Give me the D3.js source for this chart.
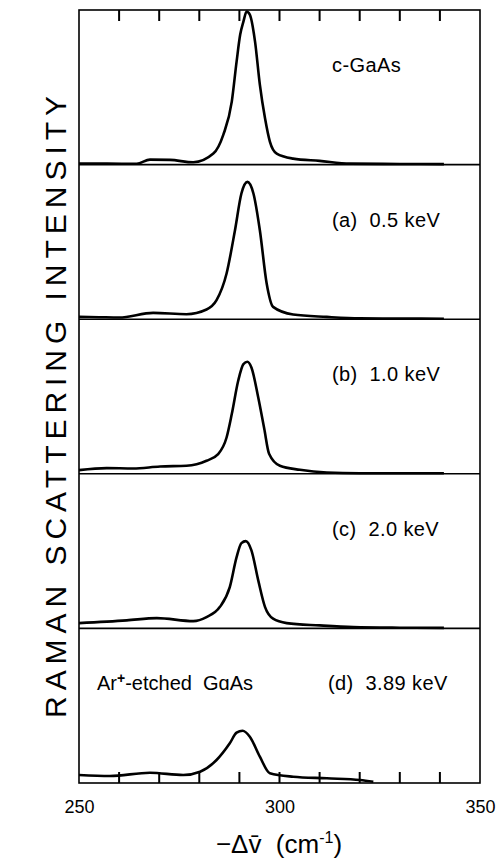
<!DOCTYPE html>
<html>
<head>
<meta charset="utf-8">
<script src="https://cdn.jsdelivr.net/npm/d3@7"></script>
<style>
  body { margin: 0; background: #fff; }
  svg { display: block; font-family: "Liberation Sans", Arial, sans-serif; }
  .frame { fill: none; stroke: #000; stroke-width: 1.6; }
  .sep { stroke: #000; stroke-width: 1.6; }
  .spectrum { fill: none; stroke: #000; stroke-width: 2.6; stroke-linejoin: round; }
  .inTick { fill: #000; stroke: none; }
  .labels path { display: none; }
  .labels text { font-size: 18px; fill: #000; }
  .panelLabel { font-size: 20px; letter-spacing: 0.4px; white-space: pre; }
</style>
</head>
<body>
<script>
//Raman spectra of GaAs, one panel per sample (top to bottom)
//wavenumber shift (cm-1) and intensity (arb. units, panel height = 153)
var shiftC = [250, 257, 264.4, 267.7, 272.7, 278.5, 283.5, 286, 288.1, 289.3, 290.2, 291, 291.8, 292.6, 293.9, 295.1, 296.4, 297.6, 299.3, 303.4, 310, 317.6, 330, 341];
var intC   = [1, 1, 0.8, 5, 4.7, 2.3, 11, 30, 63, 103, 130, 143, 153, 150, 123, 80, 46, 23, 11, 6, 3.7, 1, 0.6, 0.5];

var shiftA = [250, 255, 260, 268.5, 276.8, 281.8, 284.3, 286.8, 288.9, 290.5, 292, 293.5, 295.1, 296.8, 298.4, 303.4, 311.8, 320, 330, 341];
var intA   = [2.3, 2, 1.7, 6.3, 5, 9.7, 19, 45.7, 89, 125.7, 137.3, 125.7, 89, 35.7, 12.3, 4.7, 2.3, 0.8, 0.6, 0.5];

var shiftB = [250, 256.9, 263.5, 270.2, 276.8, 281.8, 284.7, 286.8, 288.1, 289.7, 291, 292, 293, 294.7, 296.2, 297.4, 300.1, 305.1, 311.8, 320, 341];
var intB   = [3.7, 5.7, 5.3, 7.3, 8, 13, 19.7, 36.3, 59.7, 93, 109.7, 112, 106.3, 76.3, 45, 20, 8, 4, 1.3, 0.6, 0.5];

var shiftCc = [250, 261.9, 269.4, 278.5, 281.8, 285.1, 287.6, 289.3, 290.5, 291.6, 293, 294.7, 296.4, 298.4, 301.8, 310, 318.4, 330, 341];
var intCc   = [5.3, 8, 10.3, 7.3, 11.3, 21.3, 41.3, 71.3, 85.3, 87.3, 78, 48, 21.3, 9.7, 5.3, 3, 1.3, 0.7, 0.5];

var shiftD = [250, 257.7, 267.7, 276, 280.2, 284.3, 287.6, 289.3, 290.8, 292.6, 295.1, 297.6, 303.4, 311.8, 320.1, 323.4];
var intD   = [8, 7, 10.3, 8, 11.3, 23, 39.7, 50.3, 52.3, 46.3, 26.3, 9.7, 6.3, 4.7, 3, 1.3];

var panelLabels = ["c-GaAs", "(a)  0.5 keV", "(b)  1.0 keV", "(c)  2.0 keV", "(d)  3.89 keV"];
var xTickLabels = [250, 300, 350];
var xMinorTicks = [260, 270, 280, 290, 300, 310, 320, 330, 340];

(function draw(){
  //frame dimensions
  var width = 500, height = 865;
  var left = 79, right = 480, topY = 10, bottomY = 783;
  var panelH = (bottomY - topY) / 5;
  var tickLen = 11;

  var svg = d3.select("body").append("svg")
    .attr("width", width)
    .attr("height", height);

  var x = d3.scaleLinear().domain([250, 350]).range([left, right]);

  var series = [
    {shift: shiftC, val: intC},
    {shift: shiftA, val: intA},
    {shift: shiftB, val: intB},
    {shift: shiftCc, val: intCc},
    {shift: shiftD, val: intD}
  ];

  series.forEach(function(s, i){
    var base = topY + panelH * (i + 1);
    var y = d3.scaleLinear().domain([0, 153]).range([base, base - 153]);
    var pts = s.shift.map(function(d, k){ return [d, s.val[k]]; });
    var line = d3.line()
      .x(function(d){ return x(d[0]); })
      .y(function(d){ return y(d[1]); })
      .curve(d3.curveMonotoneX);
    svg.append("path")
      .attr("class", "spectrum")
      .attr("d", line(pts));
    //panel separator / baseline
    if (i < 4) {
      svg.append("line")
        .attr("class", "sep")
        .attr("x1", left).attr("x2", right)
        .attr("y1", base).attr("y2", base);
    }
    //panel label
    svg.append("text")
      .attr("class", "panelLabel")
      .attr("x", i == 4 ? 328 : 332)
      .attr("y", base - panelH + 62)
      .text(panelLabels[i]);
  });

  //sample label in the last panel
  var ar = svg.append("text")
    .attr("class", "panelLabel")
    .style("letter-spacing", "0px")
    .attr("font-size", "19px")
    .attr("x", 97)
    .attr("y", topY + panelH * 4 + 62);
  ar.append("tspan").text("Ar");
  ar.append("tspan").attr("dy", -7).attr("font-size", "14px").attr("font-weight", "bold").text("+");
  ar.append("tspan").attr("dy", 7).text("-etched  G\u0251As");

  //outer frame
  svg.append("rect")
    .attr("class", "frame")
    .attr("x", left).attr("y", topY)
    .attr("width", right - left).attr("height", bottomY - topY);

  //inward ticks on the bottom and top edges (thin filled bars)
  svg.selectAll(".tickB")
    .data(xMinorTicks)
    .enter()
    .append("rect")
    .attr("class", "inTick tickB")
    .attr("x", function(d){ return x(d) - 1; })
    .attr("y", bottomY - tickLen)
    .attr("width", 2)
    .attr("height", tickLen);
  svg.selectAll(".tickT")
    .data(xMinorTicks)
    .enter()
    .append("rect")
    .attr("class", "inTick tickT")
    .attr("x", function(d){ return x(d) - 1; })
    .attr("y", topY)
    .attr("width", 2)
    .attr("height", tickLen);

  //tick labels
  svg.append("g")
    .attr("class", "labels")
    .attr("transform", "translate(0," + bottomY + ")")
    .call(d3.axisBottom(x).tickValues(xTickLabels).tickSize(0).tickPadding(17).tickFormat(d3.format("d")))
    .attr("font-family", null);

  //x axis title
  var xt = svg.append("text")
    .attr("x", 279).attr("y", 853)
    .attr("text-anchor", "middle")
    .attr("font-size", "26px")
    .style("white-space", "pre");
  xt.append("tspan").text("\u2212\u0394v\u0304  (cm");
  xt.append("tspan").attr("dy", -10).attr("font-size", "16px").text("-1");
  xt.append("tspan").attr("dy", 10).text(")");

  //y axis title
  svg.append("text")
    .attr("transform", "translate(66,407) rotate(-90)")
    .attr("text-anchor", "middle")
    .attr("font-size", "30px")
    .attr("textLength", 622)
    .attr("lengthAdjust", "spacing")
    .text("RAMAN SCATTERING INTENSITY");
})();
</script>
</body>
</html>
